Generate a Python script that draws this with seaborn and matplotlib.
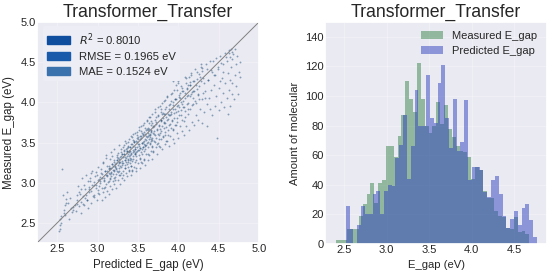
"""
Transformer_Transfer: parity plot and E_gap histograms
"""
import numpy as np
import pandas as pd
import matplotlib
matplotlib.use('Agg')
import matplotlib.pyplot as plt
import seaborn as sns
from matplotlib.patches import Patch

# scatter values, one row per band of predicted E_gap
pred_gap = [
    2.52, 2.53, 2.54, 2.55, 2.56, 2.57, 2.58, 2.60, 2.61, 2.62, 2.53, 2.55, 2.58, 2.60, 2.63, 2.65, 2.67, 2.69, 2.70, 2.72,
    2.74, 2.75, 2.76, 2.77, 2.78, 2.79, 2.80, 2.81, 2.82, 2.83, 2.84, 2.85, 2.86, 2.87, 2.88, 2.89, 2.90, 2.91, 2.92, 2.93, 2.94, 2.95,
    2.96, 2.97, 2.98, 2.99, 3.00, 3.00, 3.01, 3.02, 3.03, 3.04, 3.05, 3.05, 3.06, 3.07, 3.07, 3.08, 3.09, 3.09, 3.10, 3.10, 3.11, 3.12, 3.12, 3.13, 3.14, 3.14, 3.15, 3.15,
    3.16, 3.16, 3.17, 3.17, 3.18, 3.18, 3.19, 3.19, 3.20, 3.20, 3.21, 3.21, 3.22, 3.22, 3.23, 3.23, 3.24, 3.24, 3.25, 3.25, 3.26, 3.26, 3.27, 3.27, 3.28, 3.28, 3.29, 3.29, 3.30, 3.30,
    3.31, 3.31, 3.32, 3.32, 3.33, 3.33, 3.34, 3.34, 3.35, 3.35, 3.36, 3.36, 3.37, 3.37, 3.38, 3.38, 3.38, 3.39, 3.39, 3.39, 3.40, 3.40, 3.40, 3.41, 3.41, 3.41, 3.42, 3.42, 3.43, 3.43,
    3.44, 3.44, 3.45, 3.45, 3.46, 3.46, 3.47, 3.47, 3.48, 3.48, 3.49, 3.49, 3.50, 3.50, 3.51, 3.51, 3.52, 3.52, 3.53, 3.53, 3.54, 3.54, 3.55, 3.55, 3.56, 3.56, 3.57, 3.57, 3.58, 3.58,
    3.59, 3.59, 3.60, 3.60, 3.61, 3.61, 3.62, 3.62, 3.63, 3.63, 3.64, 3.64, 3.65, 3.65, 3.65, 3.66, 3.66, 3.66, 3.67, 3.67, 3.67, 3.68, 3.68, 3.69, 3.69, 3.70, 3.70, 3.71, 3.71, 3.72,
    3.73, 3.73, 3.74, 3.74, 3.75, 3.75, 3.76, 3.76, 3.77, 3.77, 3.78, 3.78, 3.79, 3.79, 3.80, 3.80, 3.81, 3.81, 3.82, 3.82, 3.83, 3.83, 3.84, 3.84, 3.85, 3.85, 3.86, 3.86, 3.87, 3.88,
    3.89, 3.89, 3.90, 3.90, 3.91, 3.91, 3.92, 3.92, 3.93, 3.93, 3.94, 3.94, 3.95, 3.95, 3.96, 3.96, 3.97, 3.98, 3.98, 3.99, 3.99, 4.00, 4.00, 4.01, 4.02, 4.02, 4.03, 4.04, 4.05, 4.05,
    4.06, 4.07, 4.08, 4.08, 4.09, 4.10, 4.11, 4.12, 4.12, 4.13, 4.14, 4.15, 4.16, 4.17, 4.18, 4.18, 4.19, 4.20, 4.21, 4.22, 4.23, 4.24, 4.25, 4.26, 4.27, 4.28, 4.29, 4.30, 4.31, 4.32,
    4.33, 4.34, 4.35, 4.36, 4.37, 4.38, 4.39, 4.40, 4.41, 4.42, 4.43, 4.44, 4.45, 4.46, 4.47, 4.48, 4.49, 4.50, 4.51, 4.52, 4.53, 4.54, 4.55, 4.56, 4.57, 4.58, 4.59, 4.60, 4.61, 4.62,
    4.63, 4.63, 4.64, 4.64, 4.65, 4.65, 4.66, 4.66, 4.67, 4.68, 4.69, 4.70, 4.70, 4.71, 4.72, 4.73, 4.74, 4.75, 4.76, 4.77,
    2.612, 2.683, 2.741, 2.797, 2.653, 2.728, 2.836, 2.874, 2.905, 2.768, 2.951, 2.882, 2.937, 2.819, 2.976,
    2.913, 3.021, 3.047, 2.988, 3.082, 3.063, 3.004, 3.115, 3.091, 3.136, 3.028, 3.074, 3.152, 3.108, 3.167,
    3.182, 3.143, 3.207, 3.226, 3.171, 3.251, 3.198, 3.236, 3.274, 3.219, 3.263, 3.291, 3.245, 3.308, 3.284,
    3.322, 3.341, 3.298, 3.356, 3.317, 3.372, 3.334, 3.389, 3.363, 3.402, 3.347, 3.378, 3.414, 3.393, 3.425,
    3.436, 3.408, 3.452, 3.421, 3.467, 3.443, 3.482, 3.459, 3.497, 3.474, 3.511, 3.488, 3.526, 3.503, 3.541,
    3.518, 3.556, 3.533, 3.571, 3.548, 3.586, 3.563, 3.601, 3.578, 3.616, 3.593, 3.631, 3.608, 3.646, 3.623,
    3.661, 3.638, 3.676, 3.653, 3.691, 3.668, 3.706, 3.683, 3.721, 3.698, 3.736, 3.713, 3.751, 3.728, 3.766,
    3.743, 3.781, 3.758, 3.796, 3.773, 3.811, 3.788, 3.826, 3.803, 3.841, 3.818, 3.856, 3.833, 3.871, 3.848,
    3.886, 3.863, 3.901, 3.878, 3.916, 3.893, 3.931, 3.908, 3.946, 3.923, 3.961, 3.938, 3.976, 3.953, 3.991,
    3.968, 4.006, 3.983, 4.021, 3.998, 4.036, 4.013, 4.051, 4.028, 4.066, 4.043, 4.081, 4.058, 4.096, 4.073,
    4.111, 4.088, 4.126, 4.103, 4.141, 4.118, 4.156, 4.133, 4.171, 4.148, 4.186, 4.163, 4.201, 4.178, 4.216,
    4.231, 4.208, 4.246, 4.223, 4.261, 4.238, 4.276, 4.253, 4.291, 4.268, 4.306, 4.283, 4.321, 4.298, 4.336,
    3.212, 3.267, 3.331, 3.354, 3.386, 3.412, 3.439, 3.463, 3.487, 3.512, 3.538, 3.559, 3.584, 3.612, 3.643,
    3.229, 3.283, 3.346, 3.369, 3.397, 3.428, 3.448, 3.474, 3.494, 3.523, 3.547, 3.569, 3.592, 3.624, 3.652,
    3.239, 3.293, 3.327, 3.381, 3.404, 3.433, 3.456, 3.479, 3.506, 3.529, 3.552, 3.574, 3.597, 3.629, 3.661,
    3.258, 3.304, 3.338, 3.376, 3.418, 3.441, 3.469, 3.492, 3.517, 3.536, 3.561, 3.582, 3.606, 3.634, 3.668,
    3.642, 3.657, 3.672, 3.687, 3.702, 3.717, 3.733, 3.748, 3.762, 3.777, 3.792, 3.807, 3.823, 3.838, 3.853,
    3.116, 3.138, 3.157, 3.176, 3.193, 3.214, 3.232, 3.249, 3.268, 3.287, 3.306, 3.324, 3.343, 3.361, 3.378,
    2.862, 2.896, 2.923, 2.958, 2.983, 3.012, 3.036, 3.057, 3.078, 3.097, 3.121, 3.148, 3.166, 3.187, 3.203,
    3.872, 3.891, 3.912, 3.934, 3.957, 3.972, 3.993, 4.012, 4.034, 4.057, 4.078, 4.103, 4.124, 4.147, 4.172,
    4.352, 4.374, 4.396, 4.418, 4.442, 4.463, 4.487, 4.512, 4.534, 4.557, 4.581, 4.602, 4.624, 4.641, 4.662,
]
meas_gap = [
    2.40, 2.47, 2.55, 2.58, 3.17, 2.85, 2.62, 2.72, 2.80, 2.88, 2.43, 2.50, 2.66, 2.60, 2.75, 2.55, 2.68, 2.70, 2.66, 2.72,
    2.78, 2.74, 2.96, 2.71, 2.86, 2.76, 2.62, 3.06, 2.84, 2.72, 2.92, 2.81, 3.10, 2.78, 2.69, 2.95, 2.88, 3.02, 2.75, 3.14, 2.84, 2.97,
    2.82, 3.08, 2.93, 2.79, 3.03, 2.91, 3.20, 2.86, 3.00, 3.12, 2.78, 3.06, 2.94, 3.26, 2.88, 3.04, 3.14, 2.82, 2.99, 3.34, 3.09, 2.90, 3.21, 3.01, 3.12, 2.86, 3.30, 3.05,
    2.96, 3.18, 3.08, 3.38, 2.92, 3.23, 3.11, 3.02, 3.28, 3.16, 2.98, 3.42, 3.20, 3.07, 3.25, 2.94, 3.14, 3.34, 3.03, 3.22, 3.47, 3.10, 3.30, 3.18, 2.99, 3.26, 3.38, 3.12, 3.22, 3.06,
    3.32, 3.15, 3.44, 3.24, 3.04, 3.36, 3.18, 3.28, 3.50, 3.12, 3.39, 3.23, 3.08, 3.33, 3.45, 3.19, 3.28, 3.38, 3.14, 3.55, 3.24, 3.40, 3.31, 3.10, 3.48, 3.21, 3.36, 3.58, 3.27, 3.16,
    3.41, 3.30, 3.52, 3.20, 3.37, 3.62, 3.26, 3.44, 3.14, 3.33, 3.56, 3.40, 3.24, 3.48, 3.66, 3.34, 3.18, 3.43, 3.55, 3.30, 3.70, 3.38, 3.24, 3.50, 3.44, 3.60, 3.30, 3.74, 3.40, 3.52,
    3.22, 3.46, 3.58, 3.36, 3.78, 3.50, 3.28, 3.62, 3.44, 3.68, 3.55, 3.34, 3.82, 3.48, 3.60, 3.40, 3.66, 3.52, 3.30, 3.74, 3.56, 3.46, 3.86, 3.62, 3.38, 3.70, 3.52, 3.92, 3.60, 3.44,
    3.76, 3.56, 3.36, 3.66, 3.84, 3.50, 3.72, 3.60, 3.96, 3.44, 3.78, 3.64, 3.54, 3.88, 3.70, 3.42, 3.80, 3.58, 4.02, 3.68, 3.48, 3.86, 3.74, 3.60, 3.94, 3.52, 3.78, 4.08, 3.66, 3.84,
    3.46, 3.72, 3.98, 3.58, 3.86, 3.68, 4.12, 3.78, 3.54, 3.92, 3.66, 4.26, 3.80, 3.50, 4.04, 3.72, 3.88, 3.62, 4.16, 3.76, 3.96, 3.56, 4.24, 3.84, 3.70, 4.06, 3.90, 3.64, 4.18, 3.78,
    3.94, 3.60, 4.12, 3.82, 4.30, 3.70, 3.98, 4.22, 3.86, 3.66, 4.08, 3.92, 4.34, 3.76, 4.14, 3.98, 3.72, 4.26, 4.02, 3.84, 4.38, 4.10, 3.78, 4.20, 3.92, 4.44, 4.04, 3.74, 4.30, 3.88,
    4.14, 4.48, 3.98, 3.70, 4.28, 4.06, 3.92, 4.40, 4.16, 3.84, 4.52, 4.22, 3.96, 4.34, 4.08, 3.56, 4.44, 4.18, 3.90, 4.58, 4.00, 4.30, 4.12, 4.48, 3.94, 4.24, 4.56, 4.06, 4.36, 3.86,
    4.62, 4.16, 4.28, 3.96, 4.66, 4.44, 4.10, 4.54, 4.24, 4.60, 4.04, 4.66, 4.34, 4.48, 4.20, 4.58, 4.10, 4.38, 4.50, 4.32,
    2.742, 2.631, 2.853, 2.918, 2.815, 2.644, 2.973, 2.788, 3.064, 2.882, 2.851, 3.021, 2.967, 2.741, 3.128,
    3.118, 2.962, 3.172, 3.097, 3.021, 3.241, 2.873, 3.152, 2.947, 3.213, 3.076, 2.934, 3.062, 3.302, 3.125,
    3.332, 3.024, 3.261, 3.112, 3.187, 3.364, 3.063, 3.318, 3.207, 3.035, 3.143, 3.418, 3.286, 3.243, 3.097,
    3.471, 3.183, 3.362, 3.417, 3.092, 3.298, 3.523, 3.156, 3.384, 3.447, 3.263, 3.512, 3.206, 3.332, 3.568,
    3.386, 3.281, 3.504, 3.143, 3.422, 3.608, 3.278, 3.362, 3.541, 3.182, 3.458, 3.633, 3.313, 3.402, 3.587,
    3.689, 3.421, 3.252, 3.627, 3.362, 3.472, 3.718, 3.536, 3.283, 3.663, 3.421, 3.578, 3.772, 3.492, 3.354,
    3.626, 3.812, 3.443, 3.571, 3.688, 3.762, 3.512, 3.394, 3.813, 3.647, 3.478, 3.884, 3.612, 3.736, 3.542,
    3.941, 3.783, 3.462, 3.852, 3.674, 3.573, 3.921, 3.742, 3.986, 3.628, 3.851, 3.524, 4.028, 3.796, 3.688,
    3.917, 4.062, 3.732, 3.592, 4.013, 3.841, 3.664, 4.104, 3.872, 3.773, 4.047, 3.962, 3.718, 4.151, 3.896,
    4.216, 3.942, 3.808, 4.117, 4.263, 3.846, 4.068, 3.981, 4.198, 3.774, 4.142, 3.892, 4.018, 4.237, 3.941,
    4.074, 4.312, 3.918, 4.183, 4.256, 3.992, 4.101, 4.317, 3.963, 4.218, 4.052, 4.362, 4.147, 4.268, 3.991,
    4.296, 4.412, 4.087, 4.221, 4.351, 4.168, 4.263, 4.036, 4.431, 4.314, 4.122, 4.473, 4.236, 4.386, 4.052,
    3.204, 3.248, 3.352, 3.311, 3.401, 3.372, 3.462, 3.421, 3.503, 3.476, 3.553, 3.512, 3.602, 3.568, 3.671,
    3.176, 3.322, 3.277, 3.398, 3.351, 3.484, 3.396, 3.518, 3.447, 3.581, 3.493, 3.611, 3.538, 3.652, 3.602,
    3.281, 3.196, 3.412, 3.263, 3.442, 3.331, 3.512, 3.388, 3.563, 3.434, 3.624, 3.483, 3.658, 3.512, 3.713,
    3.132, 3.357, 3.221, 3.458, 3.298, 3.527, 3.356, 3.592, 3.402, 3.641, 3.448, 3.686, 3.467, 3.744, 3.538,
    3.592, 3.648, 3.534, 3.703, 3.612, 3.781, 3.664, 3.829, 3.701, 3.624, 3.771, 3.862, 3.751, 3.912, 3.814,
    3.096, 3.183, 3.112, 3.228, 3.154, 3.236, 3.183, 3.302, 3.256, 3.336, 3.272, 3.389, 3.314, 3.431, 3.352,
    2.851, 2.923, 2.902, 3.012, 2.968, 3.042, 3.021, 3.103, 3.062, 3.148, 3.087, 3.166, 3.131, 3.204, 3.142,
    3.851, 3.962, 3.883, 4.007, 3.921, 4.048, 3.962, 4.092, 4.003, 4.136, 4.052, 4.167, 4.087, 4.212, 4.131,
    4.421, 4.276, 4.512, 4.384, 4.336, 4.548, 4.421, 4.264, 4.493, 4.372, 4.612, 4.518, 4.653, 4.568, 4.623,
]

# histogram counts per bin, 50 bins each
measured_counts = [
    3, 3, 3, 10, 10, 10, 19, 27, 34, 41, 28, 41, 43, 66, 66, 59, 73, 87, 110, 98,
    89, 122, 98, 80, 75, 80, 96, 81, 94, 78, 72, 66, 63, 62, 59, 44, 52, 50, 36, 31,
    31, 22, 19, 18, 11, 10, 18, 8, 9, 7,
]
predicted_counts = [
    26, 10, 0, 13, 26, 20, 20, 34, 36, 20, 36, 40, 39, 58, 67, 87, 44, 66, 104, 80,
    80, 114, 85, 82, 109, 121, 85, 65, 98, 63, 69, 97, 43, 52, 52, 50, 35, 32, 43, 46,
    34, 19, 11, 17, 22, 13, 24, 27, 16, 5,
]
measured_range = (2.40, 4.68)
predicted_range = (2.52, 4.77)

metric_labels = ['$R^2$ = 0.8010', 'RMSE = 0.1965 eV', 'MAE = 0.1524 eV']
metric_colors = ['#0f4d9e', '#1a5aaa', '#3a72ad']
parity_lims = [2.25, 5.0]
ticks = [2.5, 3.0, 3.5, 4.0, 4.5, 5.0]

sns.set_theme(style='darkgrid')
plt.rcParams['font.family'] = ['Liberation Sans', 'DejaVu Sans']
plt.rcParams['grid.linewidth'] = 0.5
plt.rcParams['grid.alpha'] = 0.35

fig, (ax1, ax2) = plt.subplots(1, 2, figsize=(5.5, 2.74), dpi=100)
ax1.set_position([37 / 550, 31 / 274, 222 / 550, 221 / 274])
ax2.set_position([325 / 550, 30 / 274, 222 / 550, 222 / 274])

# parity plot
scatter_df = pd.DataFrame({'pred': pred_gap, 'meas': meas_gap})
sns.scatterplot(data=scatter_df, x='pred', y='meas', s=1.8, color='#1f4e79',
                alpha=0.5, linewidth=0, ax=ax1)
ax1.plot(parity_lims, parity_lims, color='#808080', linewidth=0.7)
ax1.set_xlim(parity_lims)
ax1.set_ylim(parity_lims)
ax1.set_xticks(ticks)
ax1.set_yticks(ticks)
ax1.tick_params(labelsize=8, pad=1, length=0)
ax1.set_xlabel('Predicted E_gap (eV)', fontsize=8.3, labelpad=3.5)
ax1.set_ylabel('Measured E_gap (eV)', fontsize=8.3, labelpad=3.5)
ax1.set_title('Transformer_Transfer', fontsize=12.7, pad=4)
handles = [Patch(color=c, label=l) for c, l in zip(metric_colors, metric_labels)]
ax1.legend(handles=handles, loc='upper left', fontsize=8.1, frameon=True,
           facecolor='#edeef5', edgecolor='none', framealpha=1,
           bbox_to_anchor=(0.025, 0.98), borderaxespad=0, handlelength=2,
           labelspacing=0.42)

# histograms
measured_edges = np.linspace(*measured_range, len(measured_counts) + 1)
predicted_edges = np.linspace(*predicted_range, len(predicted_counts) + 1)
hist_m = pd.DataFrame({'gap': (measured_edges[:-1] + measured_edges[1:]) / 2, 'n': measured_counts})
hist_p = pd.DataFrame({'gap': (predicted_edges[:-1] + predicted_edges[1:]) / 2, 'n': predicted_counts})
sns.histplot(data=hist_m, x='gap', weights='n', bins=measured_edges.tolist(), color='#3c864e',
             alpha=0.5, linewidth=0, label='Measured E_gap', ax=ax2)
sns.histplot(data=hist_p, x='gap', weights='n', bins=predicted_edges.tolist(), color='#3042be',
             alpha=0.5, linewidth=0, label='Predicted E_gap', ax=ax2)
ax2.set_xlim(2.276, 4.888)
ax2.set_ylim(0, 150)
ax2.set_xticks(ticks[:-1])
ax2.set_yticks(range(0, 160, 20))
ax2.tick_params(labelsize=8, pad=1, length=0)
ax2.set_xlabel('E_gap (eV)', fontsize=8.1, labelpad=3.5)
ax2.set_ylabel('Amount of molecular', fontsize=8.1, labelpad=3.5)
ax2.set_title('Transformer_Transfer', fontsize=12.7, pad=4)
ax2.legend(loc='upper right', fontsize=8, frameon=False, bbox_to_anchor=(0.975, 0.98),
           borderaxespad=0, handlelength=2, labelspacing=0.44)

plt.savefig('out.png', dpi=100)
